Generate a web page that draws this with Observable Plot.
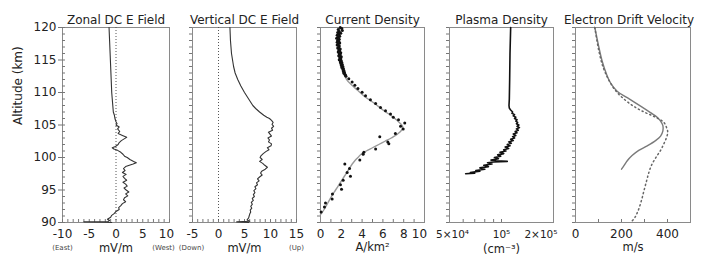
<!DOCTYPE html>
<html><head><meta charset="utf-8">
<script src="https://cdn.jsdelivr.net/npm/d3@7"></script>
<script src="https://cdn.jsdelivr.net/npm/@observablehq/plot@0.6"></script>
<style>
body{margin:0;background:#fff;}
#wrap{position:relative;width:706px;height:258px;overflow:hidden;font-family:"DejaVu Sans",sans-serif;}
#wrap>div{position:absolute;top:0;}
</style></head><body><div id="wrap"></div>
<script>
// ---------- shared altitude ticks ----------
const altMajor = [90, 95, 100, 105, 110, 115, 120];
const altMinor = [90,91,92,93,94,95,96,97,98,99,100,101,102,103,104,105,106,107,108,109,110,111,112,113,114,115,116,117,118,119,120];

// ---------- Panel 1: Zonal DC E field ----------
const zonalTitle = "Zonal DC E Field";
const zonalTicks = [-10, -5, 0, 5, 10];
const zonalMinor = [-10,-9,-8,-7,-6,-5,-4,-3,-2,-1,0,1,2,3,4,5,6,7,8,9,10];
const zonalAlt = [120,118,116,114,112,110,108,107,106.5,106,105.5,105.2,105,104.7,104.4,104,103.7,103.4,103.1,102.9,102.6,102.3,102,101.7,101.5,101.3,101.1,100.8,100.5,100.2,100,99.7,99.4,99.2,99,98.8,98.6,98.3,98,97.7,97.4,97.1,96.8,96.5,96.2,95.9,95.6,95.3,95,94.7,94.4,94.1,93.8,93.5,93.2,92.9,92.6,92.3,92,91.7,91.4,91.1,90.8,90.5,90.3,90.15,90.1,90.05,90];
const zonalE   = [-1.3,-1.2,-1.1,-1.0,-0.9,-0.8,-0.6,-0.5,-0.3,-0.2,0.0,0.2,0.0,0.6,0.3,0.7,0.4,1.2,2.0,1.6,1.0,0.6,0.4,-0.1,-0.7,-0.4,0.3,0.9,1.3,1.6,2.1,2.6,3.3,3.8,3.2,2.5,1.8,1.4,1.7,1.2,1.9,1.3,1.6,2.0,1.3,1.8,2.1,1.5,1.9,2.4,1.8,2.2,1.6,1.4,1.8,1.2,0.9,0.5,0.6,0.0,-0.3,-0.8,-1.0,-1.6,-1.2,-1.5,-6.0,-2.0,-0.8];

// ---------- Panel 2: Vertical DC E field ----------
const vertTitle = "Vertical DC E Field";
const vertTicks = [-5, 0, 5, 10, 15];
const vertMinor = [-5,-4,-3,-2,-1,0,1,2,3,4,5,6,7,8,9,10,11,12,13,14,15];
const vertAlt = [120,118,116,114,113,112,111,110,109,108,107.5,107,106.5,106.2,106,105.7,105.4,105.1,104.8,104.5,104.2,103.9,103.6,103.3,103,102.7,102.4,102.1,101.8,101.5,101.2,100.9,100.6,100.3,100,99.7,99.4,99.1,98.8,98.5,98.2,97.9,97.6,97.3,97,96.7,96.4,96.1,95.8,95.5,95.2,94.9,94.6,94.3,94,93.7,93.4,93.1,92.8,92.5,92.2,91.9,91.6,91.3,91,90.7,90.4,90.2,90.1,90.05,90];
const vertE   = [2.2,2.3,2.5,2.9,3.2,3.7,4.3,5.0,5.8,6.6,7.2,7.9,8.7,9.3,9.8,10.2,10.5,10.3,10.6,10.2,10.4,9.6,9.9,10.2,9.5,9.8,9.6,10.2,10.1,9.4,9.7,9.1,8.6,8.2,8.0,8.4,7.9,8.5,8.9,9.4,9.0,8.3,8.1,8.4,7.9,7.5,7.8,7.3,7.5,7.0,7.2,6.8,7.0,6.7,6.9,6.5,6.7,6.3,6.5,6.2,6.4,6.1,6.2,6.0,5.9,5.8,5.5,6.0,3.5,5.0,5.8];

// ---------- Panel 3: Current density ----------
const curTitle = "Current Density";
const curTicks = [0, 2, 4, 6, 8, 10];
const curMinor = [1,2,3,4,5,6,7,8,9];
const curFitAlt = [120,117,115,114,113,112,111.3,110.3,109.3,108.3,107.2,106.2,105.2,104.8,104.2,103.6,103.0,102.5,102,101.5,101,100.5,100,99.5,99,98,97,96,95,94,93,92,91.2];
const curFit    = [1.8,1.85,1.95,2.05,2.25,2.5,2.9,3.6,4.3,5.2,6.1,7.0,7.7,7.9,7.8,7.4,6.8,6.2,5.6,5.0,4.4,3.9,3.6,3.3,3.05,2.65,2.25,1.85,1.45,1.05,0.7,0.35,0.0];
const curObsAlt = [120,119.85,119.7,119.55,119.4,119.25,119.1,118.95,118.8,118.65,118.5,118.35,118.2,118.05,117.9,117.75,117.6,117.45,117.3,117.15,117,116.85,116.7,116.55,116.4,116.25,116.1,115.95,115.8,115.65,115.5,115.35,115.2,115.05,114.9,114.75,114.6,114.45,114.3,114.15,114,113.85,113.7,113.55,113.4,113.25,113.1,112.95,112.8,112.65,112.5,112.1,111.6,111.1,110.6,110.05,109.5,108.9,108.3,107.7,107.2,106.7,106.2,105.8,105.3,104.8,104.4,103.7,103.2,102.4,102.1,101.3,100.8,100.5,99.6,99.0,98.3,97.7,97.1,96.5,95.8,95.1,94.4,93.6,93.0,92.4,91.6];
const curObs    = [1.9,2.05,1.7,2.1,1.8,1.65,1.95,1.75,1.6,1.85,1.7,1.55,1.8,1.65,1.75,1.6,1.85,1.7,1.6,1.8,1.75,1.65,1.9,1.75,1.85,1.7,1.95,1.8,1.9,1.75,2.0,1.85,1.95,1.8,2.0,1.9,2.05,1.95,2.1,2.0,2.15,2.05,2.2,2.15,2.25,2.2,2.3,2.25,2.35,2.4,2.45,2.72,3.04,3.3,3.6,4.0,4.33,4.8,5.3,5.77,6.25,6.73,7.0,7.5,8.1,7.7,7.95,7.2,5.7,6.47,6.57,5.3,4.17,4.1,3.78,2.34,2.79,2.56,2.88,2.18,1.92,2.02,1.15,1.12,0.48,0.38,0.06];

// ---------- Panel 4: Plasma density ----------
const plasTitle = "Plasma Density";
const plasTicks = [5e4, 1e5, 2e5];
const plasTickLabels = ["5×10⁴", "10⁵", "2×10⁵"];
const plasMinor = [6e4, 7e4, 8e4, 9e4, 1e5];
const plasAlt = [120,116,112,109,108,107.6,107.3,107,106.8,106.6,106.4,106.2,106,105.8,105.6,105.4,105.2,105,104.8,104.6,104.4,104.2,104,103.8,103.6,103.4,103.2,103,102.8,102.6,102.4,102.2,102,101.8,101.6,101.4,101.2,101,100.8,100.6,100.4,100.2,100,99.8,99.6,99.5,99.4,99.3,99.2,99,98.8,98.6,98.4,98.2,98,97.9,97.7,97.6,97.5];
const plasN   = [1.13e5,1.12e5,1.115e5,1.11e5,1.105e5,1.11e5,1.13e5,1.16e5,1.15e5,1.19e5,1.17e5,1.21e5,1.19e5,1.23e5,1.21e5,1.24e5,1.22e5,1.26e5,1.23e5,1.27e5,1.22e5,1.25e5,1.2e5,1.23e5,1.17e5,1.21e5,1.16e5,1.19e5,1.13e5,1.17e5,1.10e5,1.14e5,1.08e5,1.12e5,1.05e5,1.10e5,1.03e5,1.06e5,9.8e4,1.03e5,9.5e4,9.9e4,9.1e4,9.6e4,8.7e4,9.3e4,1.08e5,9.0e4,8.3e4,8.8e4,7.9e4,8.4e4,7.5e4,8.0e4,7.1e4,7.5e4,6.6e4,7.0e4,6.2e4];

// ---------- Panel 5: Electron drift velocity ----------
const velTitle = "Electron Drift Velocity";
const velTicks = [0, 200, 400];
const velMinor = [100, 200, 300, 400];
const velSolidAlt = [120,117.4,114.8,112.8,111.5,110.2,109.2,107.9,106.9,106.2,105.6,104.9,104.1,103.3,102.6,101.8,101.1,100.3,99.5,98.7,98.2];
const velSolid    = [84,99,116,135,152,181,225,283,326,355,370,380,380,370,348,312,275,246,225,210,200];
const velDotAlt = [120,116.5,113.9,111.9,110.3,108.8,107.7,106.9,106.2,105.4,104.6,103.9,103.1,102.1,101.1,100.3,99.5,98.7,97.7,96.4,94.8,93.3,91.7,90.7,90];
const velDot    = [84,101,120,145,174,217,261,304,348,384,396,401,396,384,370,355,341,329,319,309,297,286,271,257,239];

// ---------- helpers ----------
const wrap = document.getElementById("wrap");
const FONT = "DejaVu Sans";
const TOP = 27, BOTTOM = 222, H = 258;
const rows = (a, b) => a.map((y, i) => ({alt: y, v: b[i]}));

function panel({left, width, fl, fr, x, title, titleDx = 0, xTicks, xLabels, xDx, xAnchor, xMinor, yLabels, extra}) {
  const fw = fr - fl, fh = BOTTOM - TOP;
  const marks = [
    Plot.frame({stroke: "#8a8a8a"}),
    Plot.tickX(xMinor, {x: d => d, insetTop: fh - 3, stroke: "#777"}),
    Plot.text([title], {text: d => d, frameAnchor: "top", dy: -12, dx: titleDx, fontSize: 12, fill: "#222"})
  ];
  if (yLabels) {
    marks.push(Plot.tickY(altMinor, {y: d => d, insetRight: fw - 3, stroke: "#777"}));
    marks.push(Plot.axisY(altMajor, {tickSize: 4, tickPadding: 2, fontSize: 12, label: null, tickFormat: d => String(d), stroke: "#777", fill: "#222"}));
    marks.push(Plot.text(["Altitude (km)"], {text: d => d, frameAnchor: "left", rotate: -90, dx: -44, fontSize: 12, fill: "#222"}));
  } else {
    marks.push(Plot.axisY(altMinor, {tickSize: 3, label: null, tickFormat: () => "", stroke: "#777"}));
  }
  // x tick labels as text marks (per-label offsets keep edge labels inside like the reference)
  xTicks.forEach((v, i) => {
    marks.push(Plot.text([v], {
      x: d => d, text: () => (xLabels ? xLabels[i] : String(v)),
      frameAnchor: "bottom", dy: 15, dx: xDx ? xDx[i] : 0,
      textAnchor: xAnchor ? xAnchor[i] : "middle",
      fontSize: xLabels ? 10.5 : 12, fill: "#222"
    }));
  });
  marks.push(...extra);
  const svg = Plot.plot({
    width, height: H,
    marginLeft: fl - left, marginRight: left + width - fr,
    marginTop: TOP, marginBottom: H - BOTTOM,
    x: {...x, axis: null},
    y: {domain: [90, 120], axis: null},
    style: {fontFamily: FONT, fontSize: "12px", background: "transparent", overflow: "visible", color: "#222"},
    marks
  });
  const d = document.createElement("div");
  d.style.left = left + "px";
  d.appendChild(svg);
  wrap.appendChild(d);
}

const sub = (data, dy, fs, fill, dxs) => data.map((r, i) => Plot.text([r], {x: "x", text: "t", frameAnchor: "bottom", dy, dx: dxs ? dxs[i] : 0, fontSize: fs, fill}));

// Panel 1
panel({
  left: 0, width: 175, fl: 62, fr: 169,
  x: {domain: [-10, 10]}, title: zonalTitle, xTicks: zonalTicks, xDx: [0, 0, 0, 0, -3], xMinor: zonalMinor, yLabels: true,
  extra: [
    Plot.ruleX([0], {stroke: "#555", strokeDasharray: "1,2"}),
    Plot.line(rows(zonalAlt, zonalE), {x: "v", y: "alt", stroke: "#333", strokeWidth: 1.1}),
    ...sub([{x: -10, t: "(East)"}, {x: 10, t: "(West)"}], 27, 7, "#444", [0, -6]),
    ...sub([{x: 0, t: "mV/m"}], 29, 11.5, "#222")
  ]
});

// Panel 2
panel({
  left: 176, width: 126, fl: 192, fr: 296,
  x: {domain: [-5, 15]}, title: vertTitle, xTicks: vertTicks, xMinor: vertMinor,
  extra: [
    Plot.ruleX([0], {stroke: "#555", strokeDasharray: "1,2"}),
    Plot.line(rows(vertAlt, vertE), {x: "v", y: "alt", stroke: "#333", strokeWidth: 1.1}),
    ...sub([{x: -5, t: "(Down)"}, {x: 15, t: "(Up)"}], 27, 7, "#444", [-1, 0]),
    ...sub([{x: 5, t: "mV/m"}], 29, 11.5, "#222")
  ]
});

// Panel 3
panel({
  left: 302, width: 128, fl: 320, fr: 424,
  x: {domain: [0, 10]}, title: curTitle, xTicks: curTicks, xDx: [0, 0, 0, 0, 0, -5], xMinor: curMinor,
  extra: [
    Plot.line(rows(curFitAlt, curFit), {x: "v", y: "alt", stroke: "#9a9a9a", strokeWidth: 1.4, curve: "catmull-rom"}),
    Plot.dot(rows(curObsAlt, curObs), {x: "v", y: "alt", r: 1.5, fill: "#111", stroke: "none"}),
    ...sub([{x: 5, t: "A/km²"}], 28, 11.5, "#222")
  ]
});

// Panel 4
panel({
  left: 430, width: 130, fl: 449, fr: 553,
  x: {type: "log", domain: [5e4, 2e5]}, title: plasTitle, xTicks: plasTicks, xLabels: plasTickLabels,
  xDx: [3, 0, 4], xAnchor: ["middle", "middle", "end"], xMinor: plasMinor,
  extra: [
    Plot.line(rows(plasAlt, plasN), {x: "v", y: "alt", stroke: "#111", strokeWidth: 1.6}),
    ...sub([{x: 1e5, t: "(cm⁻³)"}], 30, 11.5, "#222")
  ]
});

// Panel 5
panel({
  left: 560, width: 146, fl: 575, fr: 690,
  x: {domain: [0, 500]}, title: velTitle, titleDx: -4, xTicks: velTicks, xMinor: velMinor,
  extra: [
    Plot.line(rows(velSolidAlt, velSolid), {x: "v", y: "alt", stroke: "#7a7a7a", strokeWidth: 1.4, curve: "catmull-rom"}),
    Plot.line(rows(velDotAlt, velDot), {x: "v", y: "alt", stroke: "#666", strokeWidth: 1.5, strokeDasharray: "1.2,3", curve: "catmull-rom"}),
    ...sub([{x: 250, t: "m/s"}], 28, 11.5, "#222")
  ]
});
</script>
</body></html>
